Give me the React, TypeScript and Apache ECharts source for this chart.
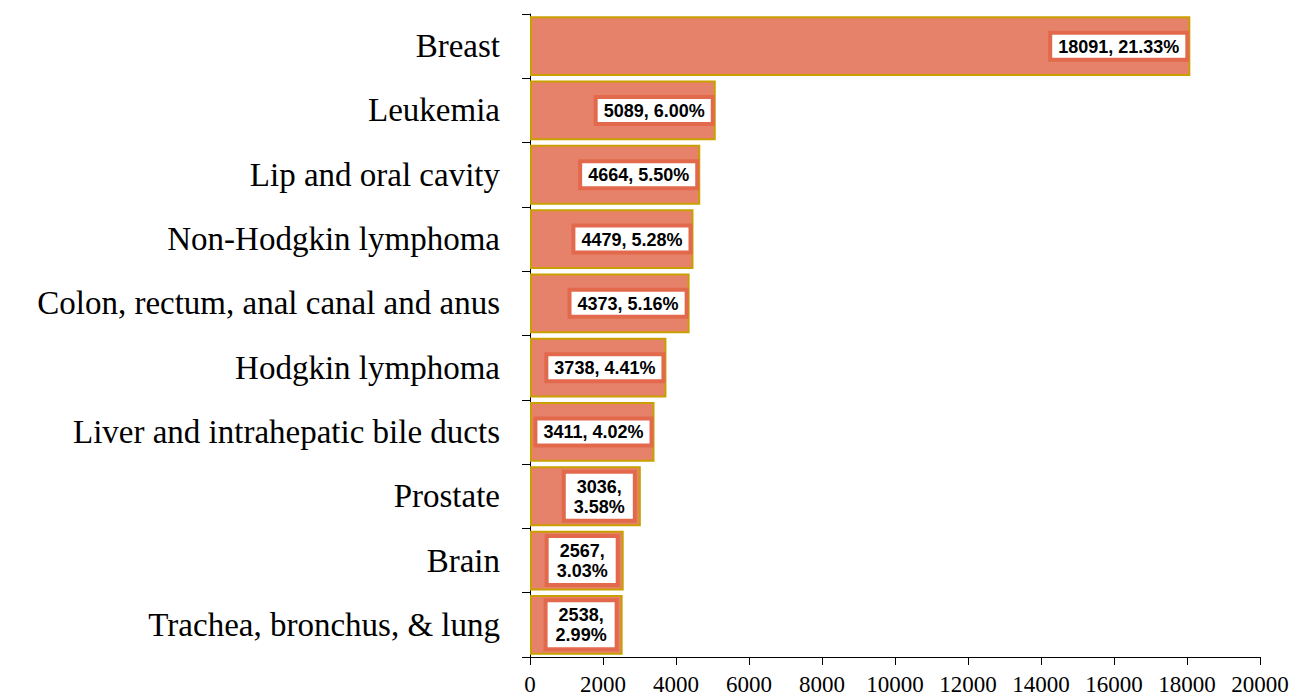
import React, { useEffect, useRef } from "react";
import * as echarts from "echarts";

const categories = [
  "Breast",
  "Leukemia",
  "Lip and oral cavity",
  "Non-Hodgkin lymphoma",
  "Colon, rectum, anal canal and anus",
  "Hodgkin lymphoma",
  "Liver and intrahepatic bile ducts",
  "Prostate",
  "Brain",
  "Trachea, bronchus, & lung",
];
const counts = [18091, 5089, 4664, 4479, 4373, 3738, 3411, 3036, 2567, 2538];
const percents = ["21.33%", "6.00%", "5.50%", "5.28%", "5.16%", "4.41%", "4.02%", "3.58%", "3.03%", "2.99%"];
const wrapped = [false, false, false, false, false, false, false, true, true, true];

export default function App() {
  const ref = useRef<HTMLDivElement>(null);
  useEffect(() => {
    const chart = echarts.init(ref.current!, null, { renderer: "svg" });
    chart.setOption({
      animation: false,
      grid: { left: 522, right: 38, top: 6, bottom: 38, containLabel: false },
      xAxis: {
        type: "value",
        min: 0,
        max: 20000,
        interval: 2000,
        splitLine: { show: false },
        axisLine: { show: true, lineStyle: { color: "#000", width: 1 } },
        axisTick: { show: true, length: 8, lineStyle: { color: "#000" } },
        axisLabel: {
          color: "#000",
          fontFamily: "Liberation Serif",
          fontSize: 23,
          margin: 16,
          formatter: (v: number) => String(v),
        },
      },
      yAxis: {
        type: "category",
        data: categories,
        inverse: true,
        axisLine: { show: true, lineStyle: { color: "#000", width: 1 } },
        axisTick: { show: true, length: 8, lineStyle: { color: "#000" } },
        axisLabel: { color: "#000", fontFamily: "Liberation Serif", fontSize: 33, margin: 30 },
      },
      series: [
        {
          type: "bar",
          barCategoryGap: "7%",
          data: counts.map((v, i) => ({
            value: v,
            label: {
              formatter: wrapped[i] ? `{c|${v},}\n{c|${percents[i]}}` : `{c|${v}, ${percents[i]}}`,
              distance: wrapped[i] ? 8 : 5,
              padding: wrapped[i] ? [3, 8, 2, 8] : [2, 6, 1, 6],
            },
          })),
          itemStyle: { color: "#E6826A", borderColor: "#C9A000", borderWidth: 2 },
          label: {
            show: true,
            position: "insideRight",
            color: "#000",
            fontFamily: "Liberation Sans",
            fontWeight: "bold",
            fontSize: 18,
            lineHeight: 20,
            backgroundColor: "#fff",
            borderColor: "#E2694C",
            borderWidth: 4,
            padding: [2, 6, 1, 6],
            rich: {
              c: {
                align: "center",
                color: "#000",
                fontFamily: "Liberation Sans",
                fontWeight: "bold",
                fontSize: 18,
                lineHeight: 20,
              },
            },
          },
        },
      ],
    });
    return () => chart.dispose();
  }, []);
  return <div ref={ref} style={{ width: 1290, height: 688 }} />;
}
